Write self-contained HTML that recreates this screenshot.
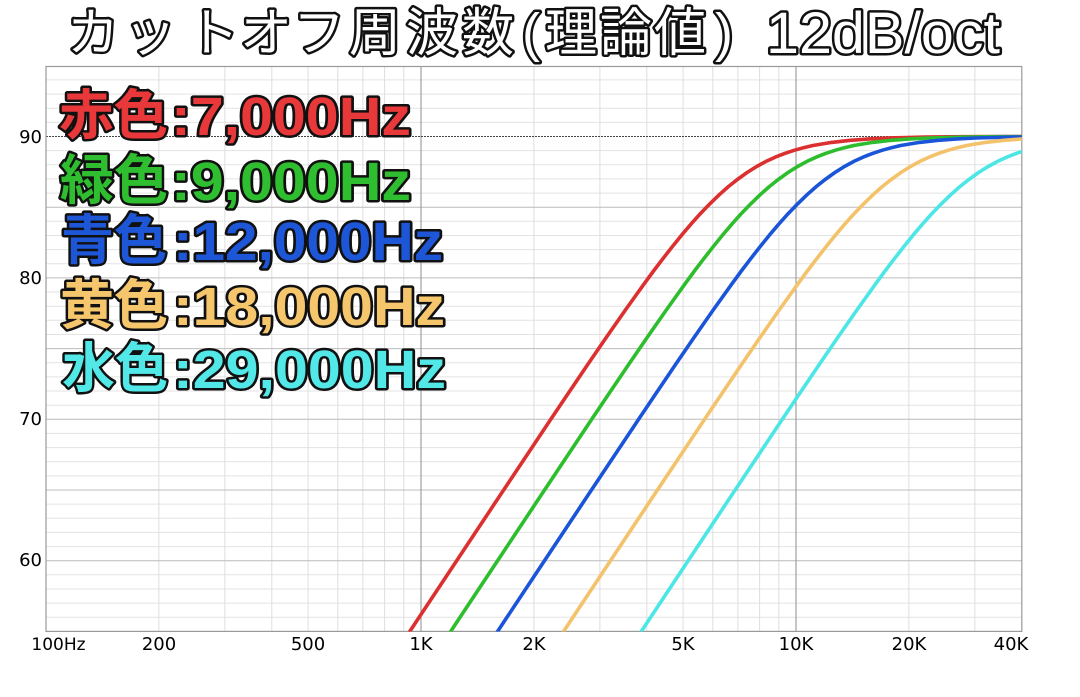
<!DOCTYPE html>
<html><head><meta charset="utf-8"><style>
html,body{margin:0;padding:0;background:#fff;}
svg{display:block;}
</style></head><body>
<svg width="1080" height="697" viewBox="0 0 1080 697" xmlns="http://www.w3.org/2000/svg">
<defs>
<clipPath id="plot"><rect x="46" y="66.5" width="975.8" height="565"/></clipPath>
<path id="shape" d="M-337.5,645.6 L-318.75,617.3 L-300,589.0 L-281.25,560.8 L-262.5,532.5 L-243.75,504.3 L-225,476.1 L-206.25,448.0 L-187.5,419.9 L-168.75,392.0 L-150,364.3 L-131.25,336.9 L-112.5,310.0 L-93.75,283.8 L-84.375,271.0 L-75,258.7 L-65.625,246.7 L-56.25,235.1 L-46.875,224.1 L-37.5,213.6 L-28.125,203.9 L-18.75,194.8 L-9.375,186.5 L0,179.1 L9.375,172.4 L18.75,166.5 L28.125,161.4 L37.5,157.1 L46.875,153.4 L56.25,150.3 L65.625,147.7 L75,145.5 L93.75,142.4 L112.5,140.3 L131.25,138.9 L150,138.0 L168.75,137.5 L187.5,137.1 L225,136.7 L262.5,136.6 L300,136.5 L340,136.5"/>
</defs>
<rect width="1080" height="697" fill="#fff"/>

<!-- minor horizontal grid -->
<g stroke="#e3e3e3" stroke-width="1">
<line x1="46" x2="1021.8" y1="79.9" y2="79.9"/><line x1="46" x2="1021.8" y1="94.1" y2="94.1"/><line x1="46" x2="1021.8" y1="108.2" y2="108.2"/><line x1="46" x2="1021.8" y1="122.4" y2="122.4"/>
<line x1="46" x2="1021.8" y1="150.6" y2="150.6"/><line x1="46" x2="1021.8" y1="164.8" y2="164.8"/><line x1="46" x2="1021.8" y1="178.9" y2="178.9"/><line x1="46" x2="1021.8" y1="193.1" y2="193.1"/>
<line x1="46" x2="1021.8" y1="221.3" y2="221.3"/><line x1="46" x2="1021.8" y1="235.5" y2="235.5"/><line x1="46" x2="1021.8" y1="249.6" y2="249.6"/><line x1="46" x2="1021.8" y1="263.8" y2="263.8"/>
<line x1="46" x2="1021.8" y1="292.0" y2="292.0"/><line x1="46" x2="1021.8" y1="306.2" y2="306.2"/><line x1="46" x2="1021.8" y1="320.3" y2="320.3"/><line x1="46" x2="1021.8" y1="334.5" y2="334.5"/>
<line x1="46" x2="1021.8" y1="362.7" y2="362.7"/><line x1="46" x2="1021.8" y1="376.9" y2="376.9"/><line x1="46" x2="1021.8" y1="391.0" y2="391.0"/><line x1="46" x2="1021.8" y1="405.2" y2="405.2"/>
<line x1="46" x2="1021.8" y1="433.4" y2="433.4"/><line x1="46" x2="1021.8" y1="447.6" y2="447.6"/><line x1="46" x2="1021.8" y1="461.7" y2="461.7"/><line x1="46" x2="1021.8" y1="475.9" y2="475.9"/>
<line x1="46" x2="1021.8" y1="504.1" y2="504.1"/><line x1="46" x2="1021.8" y1="518.3" y2="518.3"/><line x1="46" x2="1021.8" y1="532.4" y2="532.4"/><line x1="46" x2="1021.8" y1="546.6" y2="546.6"/>
<line x1="46" x2="1021.8" y1="574.8" y2="574.8"/><line x1="46" x2="1021.8" y1="589.0" y2="589.0"/><line x1="46" x2="1021.8" y1="603.1" y2="603.1"/><line x1="46" x2="1021.8" y1="617.3" y2="617.3"/>
</g>
<!-- minor vertical grid -->
<g stroke="#dedede" stroke-width="1">
<line y1="66.5" y2="631.4" x1="158.9" x2="158.9"/><line y1="66.5" y2="631.4" x1="224.9" x2="224.9"/><line y1="66.5" y2="631.4" x1="271.8" x2="271.8"/><line y1="66.5" y2="631.4" x1="308.1" x2="308.1"/><line y1="66.5" y2="631.4" x1="337.8" x2="337.8"/><line y1="66.5" y2="631.4" x1="362.9" x2="362.9"/><line y1="66.5" y2="631.4" x1="384.6" x2="384.6"/><line y1="66.5" y2="631.4" x1="403.8" x2="403.8"/>
<line y1="66.5" y2="631.4" x1="533.9" x2="533.9"/><line y1="66.5" y2="631.4" x1="599.9" x2="599.9"/><line y1="66.5" y2="631.4" x1="646.8" x2="646.8"/><line y1="66.5" y2="631.4" x1="683.1" x2="683.1"/><line y1="66.5" y2="631.4" x1="712.8" x2="712.8"/><line y1="66.5" y2="631.4" x1="737.9" x2="737.9"/><line y1="66.5" y2="631.4" x1="759.6" x2="759.6"/><line y1="66.5" y2="631.4" x1="778.8" x2="778.8"/>
<line y1="66.5" y2="631.4" x1="908.9" x2="908.9"/><line y1="66.5" y2="631.4" x1="974.9" x2="974.9"/>
</g>
<!-- 5 dB lines -->
<g stroke="#bcbcbc" stroke-width="1">
<line x1="46" x2="1021.8" y1="207.2" y2="207.2"/><line x1="46" x2="1021.8" y1="277.9" y2="277.9"/><line x1="46" x2="1021.8" y1="348.6" y2="348.6"/><line x1="46" x2="1021.8" y1="419.3" y2="419.3"/><line x1="46" x2="1021.8" y1="490.0" y2="490.0"/><line x1="46" x2="1021.8" y1="560.7" y2="560.7"/>
</g>
<!-- decade lines -->
<g stroke="#8e8e8e" stroke-width="1">
<line y1="66.5" y2="631.4" x1="421" x2="421"/><line y1="66.5" y2="631.4" x1="796" x2="796"/>
</g>
<!-- 90 dB dotted -->
<line x1="46" x2="1021.8" y1="136.5" y2="136.5" stroke="#444" stroke-width="1" stroke-dasharray="2,1"/>
<!-- frame -->
<rect x="46" y="66.5" width="975.8" height="564.9" fill="none" stroke="#9a9a9a" stroke-width="1.2"/>

<!-- curves -->
<g clip-path="url(#plot)" fill="none" stroke-width="3.6" stroke-linejoin="round" stroke-linecap="round">
<use href="#shape" transform="translate(737.9,0)" stroke="#dc2f2f"/>
<use href="#shape" transform="translate(778.8,0)" stroke="#2dbd2d"/>
<use href="#shape" transform="translate(825.7,0)" stroke="#1a55d9"/>
<use href="#shape" transform="translate(891.7,0)" stroke="#f4c26b"/>
<use href="#shape" transform="translate(969.4,0)" stroke="#4ce6e6"/>
</g>

<!-- y labels -->
<g font-family="'DejaVu Sans','Liberation Sans',sans-serif" font-size="18" fill="#000" text-anchor="end">
<text x="42" y="143">90</text>
<text x="42" y="284">80</text>
<text x="42" y="425">70</text>
<text x="42" y="566">60</text>
</g>
<!-- x labels -->
<g font-family="'DejaVu Sans','Liberation Sans',sans-serif" font-size="18" fill="#000" text-anchor="middle">
<text x="58.5" y="650" font-size="17">100Hz</text>
<text x="159" y="650">200</text>
<text x="308" y="650">500</text>
<text x="421" y="650">1K</text>
<text x="534" y="650">2K</text>
<text x="683" y="650">5K</text>
<text x="796" y="650">10K</text>
<text x="909" y="650">20K</text>
<text x="1011" y="650">40K</text>
</g>

<!-- title -->
<g font-family="'Noto Sans CJK JP','Liberation Sans',sans-serif" font-size="52" fill="#fff" stroke="#111" stroke-width="5" paint-order="stroke" stroke-linejoin="round" text-anchor="middle">
<text x="93" y="51">カ</text>
<text x="150" y="51">ッ</text>
<text x="213" y="51">ト</text>
<text x="266" y="51">オ</text>
<text x="319" y="51">フ</text>
<text x="375" y="51">周</text>
<text x="432" y="51">波</text>
<text x="488" y="51">数</text>
<text x="531" y="51" font-family="'Liberation Sans',sans-serif" font-size="54">(</text>
<text x="571" y="51">理</text>
<text x="626" y="51">論</text>
<text x="680" y="51">値</text>
<text x="724" y="51" font-family="'Liberation Sans',sans-serif" font-size="54">)</text>
</g>
<text x="766" y="53" font-family="'Liberation Sans',sans-serif" font-size="58" fill="#fff" stroke="#111" stroke-width="5" paint-order="stroke" stroke-linejoin="round" textLength="234" lengthAdjust="spacingAndGlyphs">12dB/oct</text>

<!-- legend -->
<g stroke="#111" stroke-width="5" paint-order="stroke" stroke-linejoin="round" font-weight="bold">
<g font-family="'Noto Sans CJK JP',sans-serif" font-size="54">
<text x="59" y="134" fill="#e8383a" textLength="109" lengthAdjust="spacingAndGlyphs">赤色</text>
<text x="60" y="199" fill="#2fbe2f" textLength="108" lengthAdjust="spacingAndGlyphs">緑色</text>
<text x="61" y="259" fill="#1d56d6" textLength="106" lengthAdjust="spacingAndGlyphs">青色</text>
<text x="60" y="324" fill="#f6c66d" textLength="108" lengthAdjust="spacingAndGlyphs">黄色</text>
<text x="62" y="387" fill="#52e8e8" textLength="106" lengthAdjust="spacingAndGlyphs">水色</text>
</g>
<g font-family="'Liberation Sans',sans-serif" font-size="54">
<text x="171" y="135" fill="#e8383a" textLength="240" lengthAdjust="spacingAndGlyphs">:7,000Hz</text>
<text x="171" y="200" fill="#2fbe2f" textLength="240" lengthAdjust="spacingAndGlyphs">:9,000Hz</text>
<text x="173" y="260" fill="#1d56d6" textLength="270" lengthAdjust="spacingAndGlyphs">:12,000Hz</text>
<text x="173" y="325" fill="#f6c66d" textLength="272" lengthAdjust="spacingAndGlyphs">:18,000Hz</text>
<text x="173" y="388" fill="#52e8e8" textLength="273" lengthAdjust="spacingAndGlyphs">:29,000Hz</text>
</g>
</g>
</svg>
</body></html>
